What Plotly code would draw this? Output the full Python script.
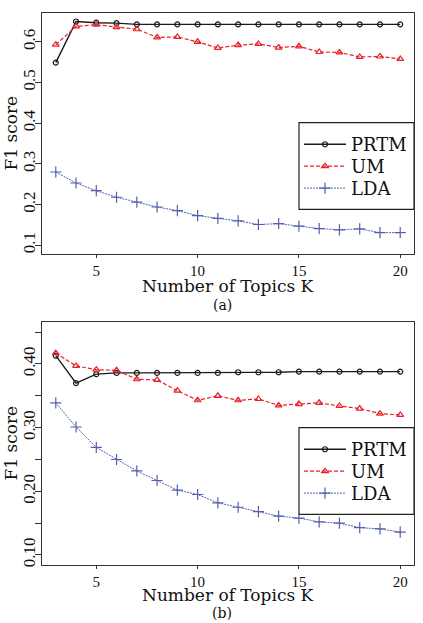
import plotly.graph_objects as go

K = list(range(3, 21))

# Panel (a)
prtm_a = [0.549, 0.650, 0.647, 0.646, 0.643, 0.643, 0.643, 0.643, 0.643, 0.643,
          0.643, 0.643, 0.643, 0.643, 0.643, 0.643, 0.643, 0.643]
um_a = [0.593, 0.638, 0.642, 0.636, 0.631, 0.611, 0.612, 0.600, 0.585, 0.592,
        0.595, 0.586, 0.589, 0.575, 0.574, 0.563, 0.564, 0.558]
lda_a = [0.280, 0.253, 0.234, 0.218, 0.206, 0.194, 0.185, 0.173, 0.166, 0.160,
         0.151, 0.153, 0.147, 0.141, 0.138, 0.140, 0.131, 0.131]

# Panel (b)
prtm_b = [0.413, 0.370, 0.384, 0.386, 0.386, 0.386, 0.386, 0.386, 0.386, 0.387,
          0.387, 0.387, 0.388, 0.388, 0.388, 0.388, 0.388, 0.388]
um_b = [0.417, 0.397, 0.391, 0.390, 0.376, 0.375, 0.358, 0.343, 0.350, 0.343,
        0.345, 0.335, 0.337, 0.339, 0.334, 0.330, 0.322, 0.320]
lda_b = [0.339, 0.301, 0.269, 0.250, 0.232, 0.217, 0.202, 0.195, 0.182, 0.175,
         0.168, 0.161, 0.158, 0.152, 0.150, 0.143, 0.141, 0.136]

x_ticks = [5, 10, 15, 20]
y_ticks_a = [0.1, 0.2, 0.3, 0.4, 0.5, 0.6]
y_ticks_b = [0.10, 0.15, 0.20, 0.25, 0.30, 0.35, 0.40, 0.45]
y_text_b = ["0.10", "", "0.20", "", "0.30", "", "0.40", ""]

series_names = ["PRTM", "UM", "LDA"]
x_title = "Number of Topics K"
y_title = "F1 score"
panel_labels = ["(a)", "(b)"]

FONT = "DejaVu Serif"
TICKFONT = "Liberation Serif"
W, H = 423, 623

styles = {
    "PRTM": dict(color="#1a1a1a", dash="solid", width=1.4, symbol="circle-open", size=5),
    "UM": dict(color="#e8202a", dash="4px,2px", width=1.2, symbol="triangle-up-open", size=6),
    "LDA": dict(color="#5360b0", dash="2px,1px", width=1.0, symbol="cross-thin-open", size=8),
}

# panel geometry (pixels)
PX_L, PX_R = 42, 414
panels = [
    dict(top=13, bottom=255, leg_top=123, leg_bottom=210, xt=287, lab=305.5),
    dict(top=323, bottom=567, leg_top=429, leg_bottom=516, xt=597, lab=615),
]
row_offsets = [22, 44, 66]

fig = go.Figure()

data = [[prtm_a, um_a, lda_a], [prtm_b, um_b, lda_b]]
leg_idx = 0
layout_legends = {}
shapes = []
for p, (pan, ys) in enumerate(zip(panels, data)):
    xa = "x" if p == 0 else "x2"
    ya = "y" if p == 0 else "y2"
    for name, y, off in zip(series_names, ys, row_offsets):
        leg_idx += 1
        lname = "legend" if leg_idx == 1 else f"legend{leg_idx}"
        s = styles[name]
        fig.add_trace(go.Scatter(
            x=K, y=y, name=name, mode="lines+markers", xaxis=xa, yaxis=ya, legend=lname,
            showlegend=True,
            line=dict(color=s["color"], dash=s["dash"], width=s["width"]),
            marker=dict(symbol=s["symbol"], size=s["size"], color=s["color"],
                        line=dict(color=s["color"], width=1.2)),
        ))
        layout_legends[lname] = dict(
            x=299 / W, xanchor="left",
            y=1 - (pan["leg_top"] + off) / H, yanchor="middle",
            bgcolor="rgba(0,0,0,0)", borderwidth=0, itemwidth=42,
            font=dict(family=FONT, size=18, color="#111"),
        )
    shapes.append(dict(type="rect", xref="paper", yref="paper",
                       x0=299 / W, x1=PX_R / W,
                       y0=1 - pan["leg_bottom"] / H, y1=1 - pan["leg_top"] / H,
                       line=dict(color="#222", width=1.2), fillcolor="white", layer="below"))

axis_common = dict(showline=True, mirror=True, linecolor="#333", linewidth=1.2,
                   ticks="outside", ticklen=6, tickcolor="#333", showgrid=False,
                   zeroline=False, tickfont=dict(family=TICKFONT, size=15, color="#111"))

xcommon = dict(axis_common, range=[2.32, 20.68], tickvals=x_ticks, ticklen=3)

xdom = [PX_L / W, PX_R / W]
ydom_a = [1 - panels[0]["bottom"] / H, 1 - panels[0]["top"] / H]
ydom_b = [1 - panels[1]["bottom"] / H, 1 - panels[1]["top"] / H]

annotations = []
for p, pan in enumerate(panels):
    annotations.append(dict(text=x_title, x=(PX_L + PX_R) / 2 / W, y=1 - pan["xt"] / H,
                            xref="paper", yref="paper", showarrow=False, yanchor="middle",
                            font=dict(family=FONT, size=17, color="#111")))
    annotations.append(dict(text=panel_labels[p], x=222 / W, y=1 - pan["lab"] / H,
                            xref="paper", yref="paper", showarrow=False, yanchor="middle",
                            font=dict(family=FONT, size=14, color="#111")))
    annotations.append(dict(text=y_title, x=11 / W, y=1 - (pan["top"] + pan["bottom"]) / 2 / H,
                            xref="paper", yref="paper", showarrow=False, textangle=-90,
                            xanchor="center", yanchor="middle",
                            font=dict(family=FONT, size=17, color="#111")))

ycommon = dict(axis_common, tickangle=-90, ticklabelstandoff=-7,
               tickfont=dict(family=TICKFONT, size=17, color="#111"))

fig.update_layout(
    width=W, height=H, margin=dict(l=0, r=0, t=0, b=0),
    paper_bgcolor="white", plot_bgcolor="white", showlegend=True,
    xaxis=dict(xcommon, domain=xdom, anchor="y"),
    yaxis=dict(ycommon, domain=ydom_a, anchor="x", range=[0.078, 0.671],
               tickvals=y_ticks_a),
    xaxis2=dict(xcommon, domain=xdom, anchor="y2"),
    yaxis2=dict(ycommon, domain=ydom_b, anchor="x2", range=[0.084, 0.466],
                tickvals=y_ticks_b, ticktext=y_text_b),
    shapes=shapes,
    annotations=annotations,
    **layout_legends,
)

fig.write_html("out.html")
